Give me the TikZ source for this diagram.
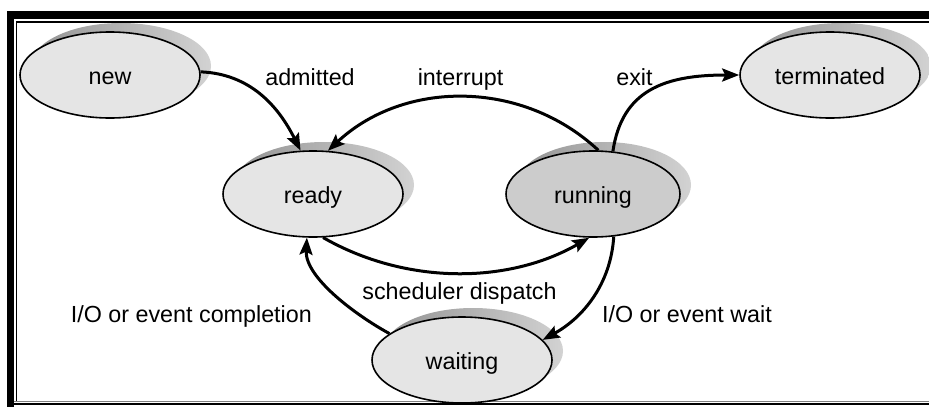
\documentclass[tikz,border=0pt]{standalone}
\usepackage{fontspec}
\setmainfont{Liberation Sans}
\usetikzlibrary{arrows.meta,shapes.geometric,shadows}
\begin{document}
\begin{tikzpicture}[x=1pt,y=-1pt,
  lbl/.style={font=\fontsize{23.3}{28}\selectfont, inner sep=0pt},
  state/.style={ellipse, draw=black, line width=1.6pt, fill=gray!20,
    minimum width=180pt, minimum height=86pt, inner sep=0pt,
    text height=21pt, text depth=2pt,
    font=\fontsize{23.3}{28}\selectfont,
    general shadow={shadow xshift=11pt, shadow yshift=9pt,
      left color=gray!85, right color=gray!35}},
  flow/.style={line width=3pt, -{Stealth[length=17pt,width=13pt,inset=3pt]}},
  frame/.style={line width=1.5pt}]
\useasboundingbox (0,0) rectangle (929,407);

% double frame: heavy outer band, thin inner rule
\fill (7,10.5) rectangle (929,19);
\fill (7,10.5) rectangle (14,407);
\draw[frame] (16.5,402) -- (16.5,21.8) -- (929,21.8);
\draw[line width=1pt, gray] (14,401.5) -- (929,401.5);
\draw[frame] (14,404.2) -- (929,404.2);

% process states
\node[state] (new) at (110,75) {new};
\node[state] (term) at (830,75) {terminated};
\node[state] (ready) at (313,194) {ready};
\node[state, fill=gray!40, minimum width=174pt] (run) at (593,194) {running};
\node[state] (wait) at (462,360) {waiting};

% transition labels
\node[lbl, anchor=base] (ladm) at (310,85) {admitted};
\node[lbl, anchor=base] (lint) at (460.5,85) {interrupt};
\node[lbl, anchor=base] (lexit) at (634.5,85) {exit};
\node[lbl, anchor=base] (lsched) at (459.5,299) {scheduler dispatch};
\node[lbl, anchor=base east] (lcomp) at (312,322) {I/O or event completion};
\node[lbl, anchor=base west] (lwait) at (602,322) {I/O or event wait};

% transitions
\draw[flow] (new.2) .. controls +(50,2) and +(-22,-44) .. (ready.106);
\draw[flow] (run.83) .. controls +(-76,-71) and +(76,-71) .. (ready.71);
\draw[flow] (run.65) .. controls +(9,-61) and +(-75,0) .. (term.west);
\draw[flow] (ready.283) .. controls +(82,47) and +(-82,47) .. (run.265);
\draw[flow] (run.296) .. controls +(-3,48) and +(40,-22) .. (wait.14);
\draw[flow] (wait.160) .. controls +(-33,-18) and +(-2,40) .. (ready.262);
\end{tikzpicture}
\end{document}
